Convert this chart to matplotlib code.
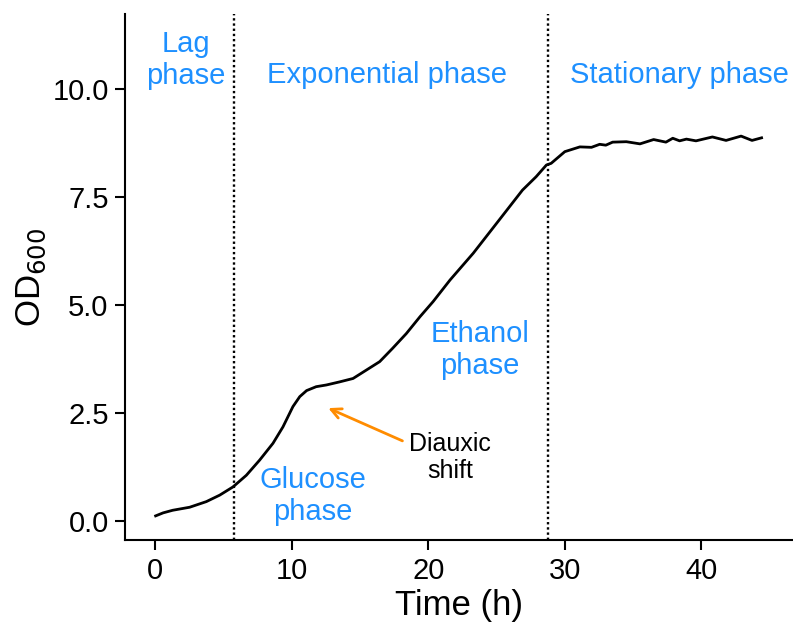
import numpy as np
import matplotlib.pyplot as plt

plt.rcParams['font.family'] = ['Liberation Sans', 'DejaVu Sans']

# growth curve
time_h = [0.05, 0.6, 1.3, 2.54, 3.76, 4.74, 5.71, 6.69, 7.66, 8.64, 9.37,
          10.1, 10.6, 11.1, 11.8, 12.55, 13.5, 14.5, 15.5, 16.45, 17.4, 18.4,
          19.4, 20.36, 21.6, 23.3, 25.2, 26.9, 27.9, 28.65, 29.0, 30.0,
          31.1, 31.95, 32.55, 33.0, 33.5, 34.5, 35.5, 36.5, 37.4, 37.9, 38.4,
          38.9, 39.6, 40.8, 41.8, 42.9, 43.7, 44.4]
od600 = [0.12, 0.19, 0.25, 0.32, 0.45, 0.60, 0.79, 1.06, 1.41, 1.80, 2.18,
         2.65, 2.88, 3.02, 3.11, 3.15, 3.22, 3.30, 3.50, 3.69, 4.00, 4.34,
         4.73, 5.08, 5.58, 6.20, 6.97, 7.66, 7.97, 8.24, 8.28, 8.55,
         8.66, 8.65, 8.72, 8.70, 8.77, 8.78, 8.73, 8.83, 8.77, 8.86, 8.80,
         8.84, 8.80, 8.89, 8.81, 8.91, 8.81, 8.87]

phase_bounds = [5.8, 28.8]

# phase labels: (text, x, y)
phase_labels = [("Lag\nphase", 2.25, 10.67),
                ("Exponential phase", 17.0, 10.32),
                ("Stationary phase", 38.4, 10.32),
                ("Glucose\nphase", 11.55, 0.58),
                ("Ethanol\nphase", 23.8, 3.96)]

blue = '#1E90FF'
orange = '#FF8C00'

fig = plt.figure(figsize=(7.93, 6.28), dpi=100)
ax = fig.add_axes([0.158, 0.140, 0.842, 0.838])

ax.plot(time_h, od600, color='black', lw=2.0)
for xb in phase_bounds:
    ax.axvline(xb, color='black', ls=(0, (1, 1.2)), lw=1.7)

for txt, x, y in phase_labels:
    ax.text(x, y, txt, color=blue, fontsize=21, ha='center', va='center',
            linespacing=1.15)

ax.text(21.6, 1.48, "Diauxic\nshift", color='black', fontsize=18,
        ha='center', va='center', linespacing=1.15)
ax.annotate("", xy=(12.5, 2.64), xytext=(18.3, 1.83),
            arrowprops=dict(arrowstyle='->', color=orange, lw=2,
                            mutation_scale=18))

ax.set_xlim(-2.17, 46.7)
ax.set_ylim(-0.44, 11.74)
ax.set_xticks([0, 10, 20, 30, 40])
ax.set_yticks([0, 2.5, 5.0, 7.5, 10.0])
ax.set_yticklabels(['0.0', '2.5', '5.0', '7.5', '10.0'])
ax.tick_params(labelsize=21, width=1.5, length=7, direction='out',
               color='black', pad=5)

for s in ['top', 'right']:
    ax.spines[s].set_visible(False)
for s in ['left', 'bottom']:
    ax.spines[s].set_linewidth(1.5)

ax.set_xlabel("Time (h)", fontsize=25, labelpad=3)
ax.set_ylabel("OD$_{600}$", fontsize=25, labelpad=3)

fig.savefig("out.png", dpi=100)
